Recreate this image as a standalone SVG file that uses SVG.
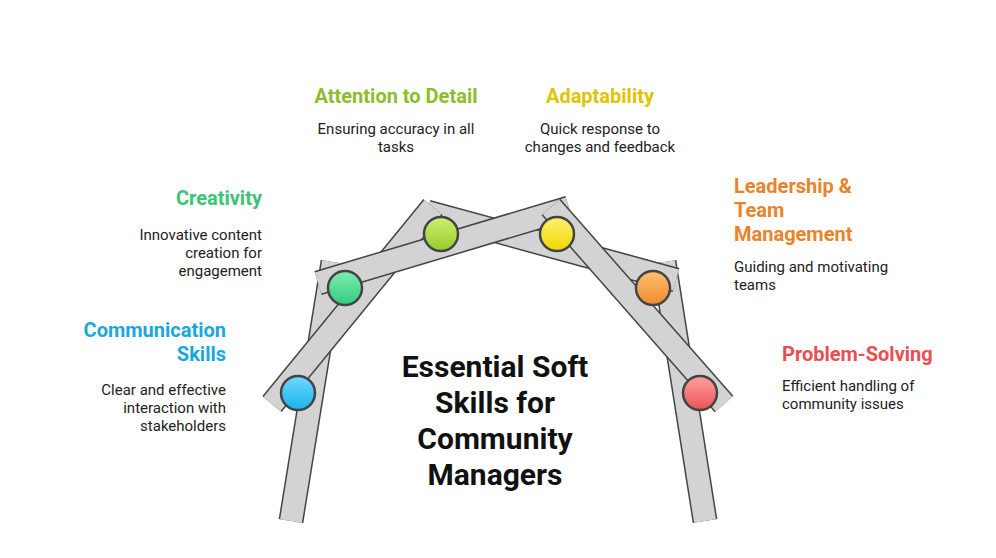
<svg xmlns="http://www.w3.org/2000/svg" width="996" height="558" viewBox="0 0 996 558">
<defs>
<style>
.o{stroke:#444;stroke-width:25;fill:none}
.i{stroke:#d3d3d3;stroke-width:22;fill:none}
.c{stroke:#444;stroke-width:2.5}
.t{font-family:Roboto,"Liberation Sans",sans-serif;font-weight:bold;font-size:20px}
.d{font-family:Roboto,"Liberation Sans",sans-serif;font-size:15px;fill:#222}
.m{font-family:Roboto,"Liberation Sans",sans-serif;font-weight:bold;font-size:30px;fill:#111;text-anchor:middle}
</style>
<linearGradient id="gb" x1="0" y1="0" x2="0" y2="1"><stop offset="0" stop-color="#6fd8ff"/><stop offset="1" stop-color="#1ab2ee"/></linearGradient>
<linearGradient id="gg" x1="0" y1="0" x2="0" y2="1"><stop offset="0" stop-color="#7fecb0"/><stop offset="1" stop-color="#32cc80"/></linearGradient>
<linearGradient id="gl" x1="0" y1="0" x2="0" y2="1"><stop offset="0" stop-color="#cff070"/><stop offset="1" stop-color="#92cc2a"/></linearGradient>
<linearGradient id="gy" x1="0" y1="0" x2="0" y2="1"><stop offset="0" stop-color="#fff070"/><stop offset="1" stop-color="#f0d800"/></linearGradient>
<linearGradient id="go" x1="0" y1="0" x2="0" y2="1"><stop offset="0" stop-color="#ffc070"/><stop offset="1" stop-color="#f08a30"/></linearGradient>
<linearGradient id="gr" x1="0" y1="0" x2="0" y2="1"><stop offset="0" stop-color="#ffa0a0"/><stop offset="1" stop-color="#e85454"/></linearGradient>
</defs>
<rect width="996" height="558" fill="#fff"/>
<g id="connectors">
<line class="o" x1="291" y1="521" x2="333" y2="262"/><line class="i" x1="291" y1="521" x2="333" y2="262"/>
<line class="o" x1="705" y1="521" x2="664" y2="262"/><line class="i" x1="705" y1="521" x2="664" y2="262"/>
<line class="o" x1="427" y1="212" x2="676" y2="280"/><line class="i" x1="427" y1="212" x2="676" y2="280"/>
<line class="o" x1="272" y1="404" x2="433" y2="207"/><line class="i" x1="272" y1="404" x2="433" y2="207"/>
<line class="o" x1="318" y1="283" x2="569" y2="208"/><line class="i" x1="318" y1="283" x2="569" y2="208"/>
<line class="o" x1="551" y1="207" x2="724" y2="404"/><line class="i" x1="551" y1="207" x2="724" y2="404"/>
</g>
<g id="communication">
<circle class="c" cx="298" cy="393" r="17" fill="url(#gb)"/>
<text class="t" x="226" y="337" fill="#1aa8dc" text-anchor="end">Communication</text>
<text class="t" x="226" y="361" fill="#1aa8dc" text-anchor="end">Skills</text>
<text class="d" x="226" y="395" text-anchor="end">Clear and effective</text>
<text class="d" x="226" y="413" text-anchor="end">interaction with</text>
<text class="d" x="226" y="431" text-anchor="end">stakeholders</text>
</g>
<g id="creativity">
<circle class="c" cx="345" cy="288" r="17" fill="url(#gg)"/>
<text class="t" x="262" y="205" fill="#3cc47a" text-anchor="end">Creativity</text>
<text class="d" x="262" y="240" text-anchor="end">Innovative content</text>
<text class="d" x="262" y="258" text-anchor="end">creation for</text>
<text class="d" x="262" y="276" text-anchor="end">engagement</text>
</g>
<g id="attention">
<circle class="c" cx="441" cy="234" r="17" fill="url(#gl)"/>
<text class="t" x="396" y="103" fill="#8dbc2c" text-anchor="middle">Attention to Detail</text>
<text class="d" x="396" y="134" text-anchor="middle">Ensuring accuracy in all</text>
<text class="d" x="396" y="152" text-anchor="middle">tasks</text>
</g>
<g id="adaptability">
<circle class="c" cx="557" cy="234" r="17" fill="url(#gy)"/>
<text class="t" x="600" y="103" fill="#e0c400" text-anchor="middle">Adaptability</text>
<text class="d" x="600" y="134" text-anchor="middle">Quick response to</text>
<text class="d" x="600" y="152" text-anchor="middle">changes and feedback</text>
</g>
<g id="leadership">
<circle class="c" cx="653" cy="288" r="17" fill="url(#go)"/>
<text class="t" x="734" y="193" fill="#e8842a">Leadership &amp;</text>
<text class="t" x="734" y="217" fill="#e8842a">Team</text>
<text class="t" x="734" y="241" fill="#e8842a">Management</text>
<text class="d" x="734" y="272">Guiding and motivating</text>
<text class="d" x="734" y="290">teams</text>
</g>
<g id="problem">
<circle class="c" cx="700" cy="393" r="17" fill="url(#gr)"/>
<text class="t" x="782" y="361" fill="#e85050">Problem-Solving</text>
<text class="d" x="782" y="391">Efficient handling of</text>
<text class="d" x="782" y="409">community issues</text>
</g>
<g id="title">
<text class="m" x="495" y="377">Essential Soft</text>
<text class="m" x="495" y="413">Skills for</text>
<text class="m" x="495" y="449">Community</text>
<text class="m" x="495" y="485">Managers</text>
</g>
</svg>
